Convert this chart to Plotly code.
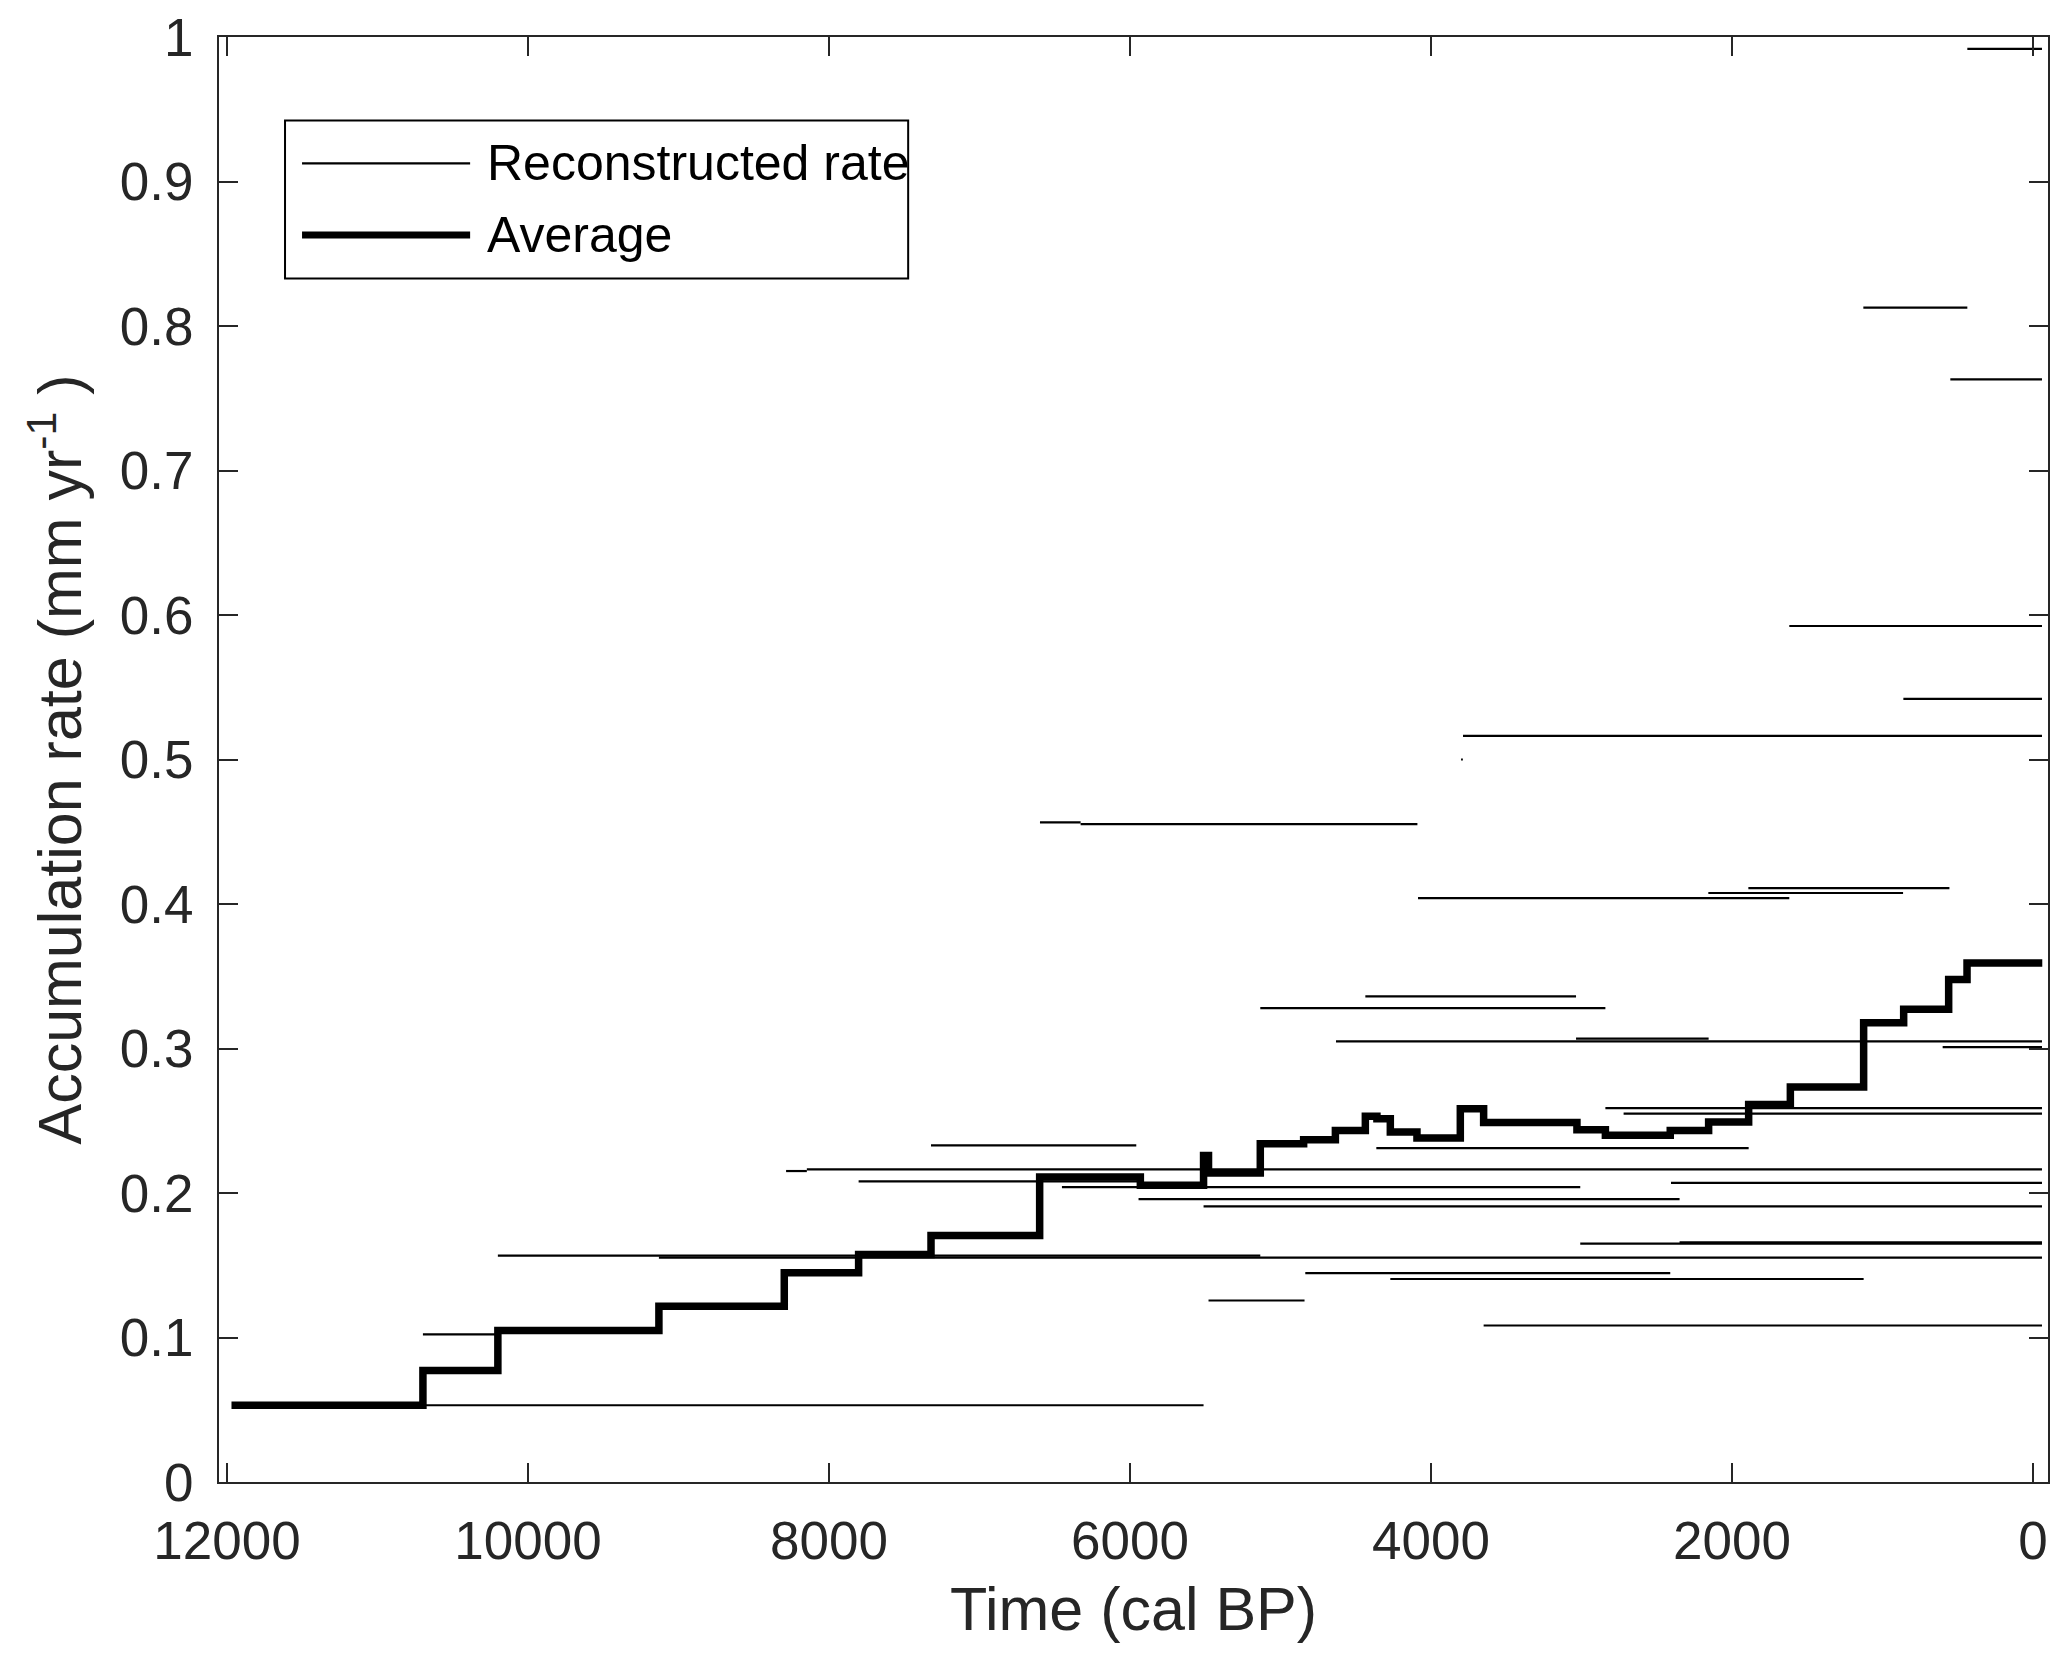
import plotly.graph_objects as go

# ---- Data ----
# Reconstructed accumulation-rate segments: age interval (cal BP) and rate (mm/yr)
seg_from_bp = [436, 1127, 549, 1619, 861, 3787, 3800, 6598, 6328, 1891, 2157, 4086,
               4436, 5134, 4631, 3036, 600, 2841, 2720, 7322, 4363, 8285, 8147, 7803,
               2405, 6452, 5943, 5511, 3008, 2348, 10200, 9130, 4835, 4270, 5478, 3650,
               10698, 10698]
seg_to_bp = [-60, 436, -60, -60, -60, -60, 3788, 6328, 4090, 555, 863, 1619,
             3036, 2841, -60, 2155, -60, -60, -60, 5958, 1889, 8147, -60, 5930,
             -60, 3008, 2348, -60, -60, -60, 5134, -60, 2410, 1125, 4840, -60,
             10200, 5511]
seg_rate = [0.9918, 0.8127, 0.763, 0.5924, 0.542, 0.5164, 0.500, 0.4565, 0.4553, 0.411, 0.4076, 0.404,
            0.3361, 0.328, 0.305, 0.3068, 0.301, 0.2588, 0.2549, 0.2330, 0.2311, 0.2152, 0.2163, 0.2080,
            0.2070, 0.2041, 0.1957, 0.1907, 0.1649, 0.1658, 0.1566, 0.1553, 0.1446, 0.1405, 0.1256, 0.1083,
            0.1021, 0.0531]

# Average rate: step edges (cal BP) and value in each step
avg_edges_bp = [11970, 10698, 10200, 9130, 8297, 7803, 7322, 6600, 5931, 5511, 5478, 5134,
                4846, 4635, 4436, 4359, 4270, 4093, 3805, 3650, 3030, 2841, 2410, 2155,
                1889, 1612, 1125, 859, 560, 438, -62]
avg_rate = [0.0532, 0.0772, 0.1049, 0.1216, 0.1448, 0.1575, 0.1706, 0.2110, 0.2053, 0.226,
            0.2138, 0.2341, 0.2369, 0.2433, 0.2532, 0.2514, 0.2422, 0.2380, 0.2583, 0.2488,
            0.2438, 0.2399, 0.2433, 0.2491, 0.2613, 0.2733, 0.3179, 0.3271, 0.3477, 0.3592]

x_ticks = [0, 2000, 4000, 6000, 8000, 10000, 12000]
x_ticktext = ["0", "2000", "4000", "6000", "8000", "10000", "12000"]
y_ticks = [0, 0.1, 0.2, 0.3, 0.4, 0.5, 0.6, 0.7, 0.8, 0.9, 1.0]
y_ticktext = ["0", "0.1", "0.2", "0.3", "0.4", "0.5", "0.6", "0.7", "0.8", "0.9", "1"]

legend_labels = ["Reconstructed rate", "Average"]

# ---- Build traces ----
seg_x, seg_y = [], []
for a, b, r in zip(seg_from_bp, seg_to_bp, seg_rate):
    seg_x += [a, b, None]
    seg_y += [r, r, None]

avg_x = avg_edges_bp[:-1] + [avg_edges_bp[-1]]
avg_y = avg_rate + [avg_rate[-1]]

AX = "#262626"
FONT = "Liberation Sans, Arial, Helvetica, sans-serif"

fig = go.Figure()
fig.add_trace(go.Scatter(x=seg_x, y=seg_y, mode="lines", name=legend_labels[0],
                         line=dict(color="black", width=2.2), showlegend=False,
                         connectgaps=False))
fig.add_trace(go.Scatter(x=avg_x, y=avg_y, mode="lines", name=legend_labels[1],
                         line=dict(color="black", width=7.5, shape="hv"), showlegend=False))

# ---- Custom legend (MATLAB style) ----
L, R, T, B = 0.0361, 0.3768, 0.9422, 0.8329
fig.add_shape(type="rect", xref="paper", yref="paper", x0=L, x1=R, y0=B, y1=T,
              line=dict(color="black", width=2), fillcolor="white", layer="above")
for yy, w, lab in [(0.9125, 2.2, legend_labels[0]), (0.8630, 7.0, legend_labels[1])]:
    fig.add_shape(type="line", xref="paper", yref="paper", x0=0.0454, x1=0.1373,
                  y0=yy, y1=yy, line=dict(color="black", width=w), layer="above")
    fig.add_annotation(xref="paper", yref="paper", x=0.1455, y=yy, text=lab,
                       showarrow=False, xanchor="left", yanchor="middle",
                       font=dict(family=FONT, size=50, color="black"))

axis_common = dict(showgrid=False, zeroline=False, showline=True, linecolor=AX,
                   linewidth=2, mirror="ticks", ticks="inside", ticklen=19,
                   tickwidth=2, tickcolor=AX, ticklabeloverflow="allow",
                   automargin=False,
                   tickfont=dict(family=FONT, size=53, color=AX))

fig.update_xaxes(range=[12053, -100], tickvals=x_ticks, ticktext=x_ticktext,
                 title=dict(text="Time (cal BP)", font=dict(family=FONT, size=61, color=AX),
                            standoff=19),
                 ticklabelstandoff=11, **axis_common)
fig.update_yaxes(range=[0, 1.0], tickvals=y_ticks, ticktext=y_ticktext,
                 title=dict(text="Accumulation rate (mm yr<sup>-1</sup> )",
                            font=dict(family=FONT, size=61, color=AX), standoff=18),
                 ticklabelstandoff=13, **axis_common)

# page body has an 8px margin, so the figure is sized to fit the window
fig.update_layout(width=2059, height=1666, plot_bgcolor="white", paper_bgcolor="white",
                  margin=dict(l=211, r=19, t=29, b=192, pad=0), showlegend=False,
                  font=dict(family=FONT, color=AX))

fig.write_html("out.html")
